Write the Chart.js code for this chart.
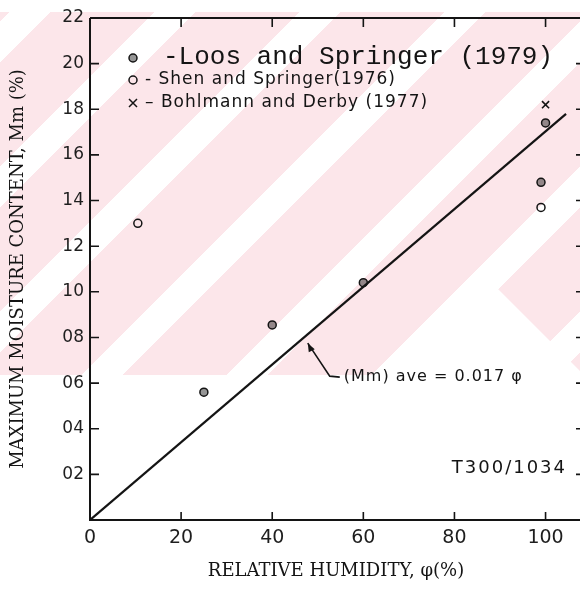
<!DOCTYPE html>
<html>
<head>
<meta charset="utf-8">
<script src="https://cdn.jsdelivr.net/npm/chart.js@4.4.1/dist/chart.umd.min.js"></script>
<style>
  html, body { margin: 0; padding: 0; background: #ffffff; overflow: hidden; }
  #wrap { position: relative; width: 580px; height: 592px; overflow: hidden; }
  #bg {
    position: absolute; left: 0; top: 12px; width: 580px; height: 363px;
    background: repeating-linear-gradient(135deg, #fce6ea 0px, #fce6ea 7px, #ffffff 7px, #ffffff 36px, #fce6ea 36px, #fce6ea 102.5px);
  }
  #tri {
    position: absolute; left: 0; top: 0; width: 580px; height: 592px; background: #ffffff;
    clip-path: polygon(487px 278px, 390px 376px, 590px 376px, 590px 381px);
  }
  #c { position: absolute; left: 0; top: 0; }
</style>
</head>
<body>
<div id="wrap">
  <div id="bg"></div>
  <div id="tri"></div>
  <canvas id="c" width="592" height="592"></canvas>
</div>
<script>
// ---- data ----
const xTickValues = [0, 20, 40, 60, 80, 100];
const xTickLabels = ["0", "20", "40", "60", "80", "100"];
const yTickValues = [0, 0.2, 0.4, 0.6, 0.8, 1.0, 1.2, 1.4, 1.6, 1.8, 2.0, 2.2];
const yTickLabels = ["", "02", "04", "06", "08", "10", "12", "14", "16", "18", "20", "22"];

const loosX = [25, 40, 60, 99, 100];
const loosY = [0.56, 0.855, 1.04, 1.48, 1.74];
const shenX = [10.5, 99];
const shenY = [1.30, 1.37];
const bohlX = [100];
const bohlY = [1.82];
const fitX = [0, 104.5];
const fitY = [0, 1.78];

const seriesNames = ["Loos and Springer (1979)", "Shen and Springer(1976)", "Bohlmann and Derby (1977)"];
const fitLabel = "(Mm) ave = 0.017 \u03C6";
const specimenLabel = "T300/1034";
const xTitle = "RELATIVE HUMIDITY, \u03C6(%)";
const yTitle = "MAXIMUM MOISTURE CONTENT, Mm (%)";

const pts = (xs, ys) => xs.map((x, i) => ({ x: x, y: ys[i] }));
const INK = '#141414';

const framePlugin = {
  id: 'frame',
  beforeDatasetsDraw(chart) {
    const { ctx, chartArea: a, scales } = chart;
    ctx.save();
    ctx.strokeStyle = INK;
    ctx.lineWidth = 2;
    ctx.beginPath();
    ctx.moveTo(a.left, a.top); ctx.lineTo(a.right, a.top);
    ctx.moveTo(a.left, a.top); ctx.lineTo(a.left, a.bottom);
    ctx.moveTo(a.left - 1, a.bottom); ctx.lineTo(a.right, a.bottom);
    ctx.moveTo(a.right, a.top); ctx.lineTo(a.right, a.bottom);
    ctx.stroke();
    ctx.lineWidth = 1.6;
    ctx.beginPath();
    yTickValues.forEach(v => {
      if (v === 0) return;
      const py = scales.y.getPixelForValue(v);
      ctx.moveTo(a.left, py); ctx.lineTo(a.left + 9, py);
      ctx.moveTo(a.right - 6, py); ctx.lineTo(a.right, py);
    });
    xTickValues.forEach(v => {
      if (v === 0) return;
      const px = scales.x.getPixelForValue(v);
      ctx.moveTo(px, a.bottom); ctx.lineTo(px, a.bottom - 8);
      ctx.moveTo(px, a.top); ctx.lineTo(px, a.top + 9);
    });
    ctx.stroke();
    ctx.restore();
  },
  afterDraw(chart) {
    const { ctx, chartArea: a, scales } = chart;
    ctx.save();
    ctx.fillStyle = INK;
    ctx.strokeStyle = INK;
    ctx.textBaseline = 'middle';
    ctx.textAlign = 'left';
    // legend symbols
    const lx = a.left + 43;
    ctx.lineWidth = 1.5;
    ctx.beginPath(); ctx.arc(lx, a.top + 40, 4, 0, Math.PI * 2);
    ctx.fillStyle = 'rgba(20,20,20,0.45)'; ctx.fill(); ctx.stroke();
    ctx.beginPath(); ctx.arc(lx, a.top + 62, 4, 0, Math.PI * 2); ctx.stroke();
    ctx.beginPath();
    ctx.moveTo(lx - 4, a.top + 81); ctx.lineTo(lx + 4, a.top + 89);
    ctx.moveTo(lx + 4, a.top + 81); ctx.lineTo(lx - 4, a.top + 89);
    ctx.stroke();
    ctx.fillStyle = INK;
    ctx.font = '26px "Liberation Mono", monospace';
    ctx.fillText('-' + seriesNames[0], lx + 30, a.top + 39);
    ctx.font = '17px "DejaVu Sans", sans-serif';
    ctx.letterSpacing = '1px';
    ctx.fillText('- ' + seriesNames[1], lx + 12, a.top + 62);
    ctx.fillText('\u2013 ' + seriesNames[2], lx + 12, a.top + 85);

    // fit annotation with leader arrow
    const tx = scales.x.getPixelForValue(47.8);
    const ty = scales.y.getPixelForValue(0.775);
    ctx.letterSpacing = '0px';
    ctx.lineWidth = 1.6;
    ctx.beginPath();
    ctx.moveTo(tx, ty);
    ctx.lineTo(tx + 22, ty + 33);
    ctx.lineTo(tx + 32, ty + 34);
    ctx.stroke();
    ctx.beginPath();
    ctx.moveTo(tx, ty);
    ctx.lineTo(tx + 1, ty + 9);
    ctx.lineTo(tx + 7, ty + 6);
    ctx.closePath();
    ctx.fill();
    ctx.font = '16px "DejaVu Sans", sans-serif';
    ctx.letterSpacing = '1px';
    ctx.fillText(fitLabel, tx + 36, ty + 34);

    ctx.font = '18px "DejaVu Sans", sans-serif';
    ctx.letterSpacing = '2px';
    ctx.textAlign = 'right';
    ctx.fillText(specimenLabel, a.right - 15, scales.y.getPixelForValue(0.225));
    ctx.restore();
  }
};

new Chart(document.getElementById('c'), {
  type: 'scatter',
  data: {
    datasets: [
      {
        type: 'line', label: 'fit', data: pts(fitX, fitY),
        borderColor: INK, borderWidth: 2.2, pointRadius: 0, fill: false, tension: 0
      },
      {
        label: seriesNames[0], data: pts(loosX, loosY),
        pointStyle: 'circle', pointRadius: 4, borderWidth: 1.5,
        borderColor: INK, backgroundColor: 'rgba(20,20,20,0.45)'
      },
      {
        label: seriesNames[1], data: pts(shenX, shenY),
        pointStyle: 'circle', pointRadius: 4, borderWidth: 1.5,
        borderColor: INK, backgroundColor: 'rgba(0,0,0,0)'
      },
      {
        label: seriesNames[2], data: pts(bohlX, bohlY),
        pointStyle: 'crossRot', pointRadius: 5, borderWidth: 1.6,
        borderColor: INK, backgroundColor: INK
      }
    ]
  },
  options: {
    responsive: false,
    animation: false,
    devicePixelRatio: 1,
    layout: { padding: { top: 18, right: 10, left: 0, bottom: 0 } },
    plugins: { legend: { display: false }, tooltip: { enabled: false } },
    scales: {
      x: {
        type: 'linear', min: 0, max: 108,
        afterBuildTicks: s => { s.ticks = xTickValues.map(v => ({ value: v })); },
        afterFit: s => { s.height = 72; },
        grid: { display: false, drawTicks: false }, border: { display: false },
        ticks: {
          padding: 7, color: '#1e1e1e',
          font: { family: '"DejaVu Sans", sans-serif', size: 19 },
          callback: (v, i) => xTickLabels[i]
        },
        title: {
          display: true, text: xTitle, color: INK,
          font: { family: '"DejaVu Serif", serif', size: 18 },
          padding: { top: 0, bottom: 10 }
        }
      },
      y: {
        type: 'linear', min: 0, max: 2.2,
        afterBuildTicks: s => { s.ticks = yTickValues.map(v => ({ value: v })); },
        afterFit: s => { s.width = 90; },
        grid: { display: false, drawTicks: false }, border: { display: false },
        ticks: {
          padding: 6, color: '#1e1e1e',
          font: { family: '"DejaVu Sans", sans-serif', size: 17 },
          callback: (v, i) => yTickLabels[i]
        },
        title: {
          display: true, text: yTitle, color: INK,
          font: { family: '"DejaVu Serif", serif', size: 18 },
          padding: { top: 8, bottom: 0 }
        }
      }
    }
  },
  plugins: [framePlugin]
});
</script>
</body>
</html>
